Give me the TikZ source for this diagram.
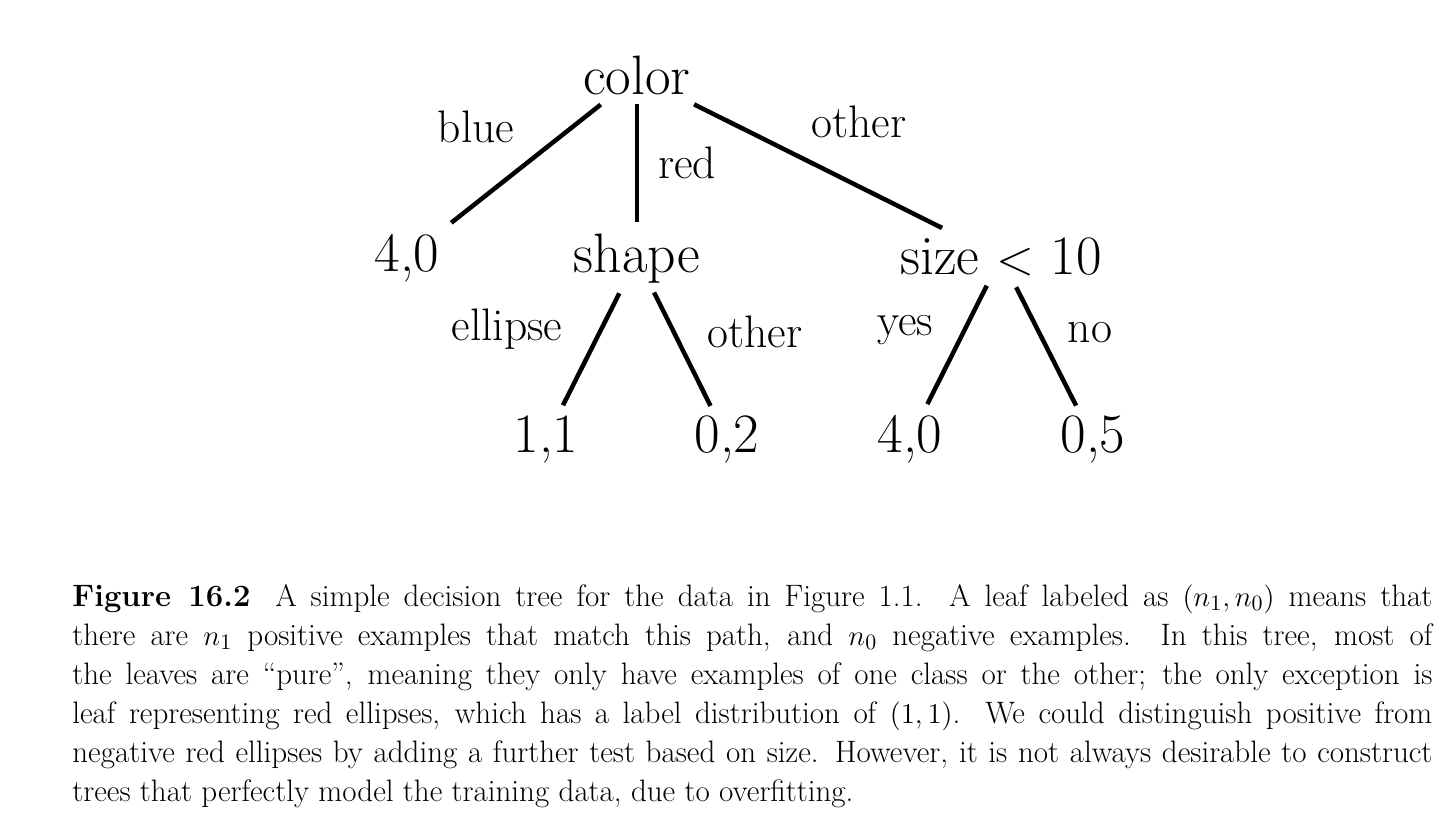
\documentclass[tikz,border=0pt]{standalone}
\usepackage{graphicx}
\begin{document}
\begin{tikzpicture}[x=0.5pt,y=-0.5pt,
  tnode/.style={anchor=base,inner sep=0pt,font=\fontsize{27.8}{32}\selectfont},
  elabel/.style={anchor=base,inner sep=0pt,font=\fontsize{22.8}{26}\selectfont},
  edge/.style={line width=2.25pt}]
\useasboundingbox (0,0) rectangle (1450,818);
% nodes
\node[tnode] (color) at (637,95) {color};
\node[tnode] (l40) at (407,271) {4,0};
\node[tnode] (shape) at (637,272) {shape};
\node[tnode] (size) at (1001,275) {size $<$ 10};
\node[tnode] (l11) at (546,452) {1,1};
\node[tnode] (l02) at (727,452) {0,2};
\node[tnode] (r40) at (910,452) {4,0};
\node[tnode] (r05) at (1093,452) {0,5};
% edges
\draw[edge,shorten <=23.1pt,shorten >=28.2pt] (color.center) -- (l40.center);
\draw[edge,shorten <=13.9pt,shorten >=18.2pt] (color.center) -- (shape.center);
\draw[edge,shorten <=31.9pt,shorten >=32.9pt] (color.center) -- (size.center);
\draw[edge,shorten <=19.7pt,shorten >=18.9pt] (shape.center) -- (l11.center);
\draw[edge,shorten <=19.2pt,shorten >=18.5pt] (shape.center) -- (l02.center);
\draw[edge,shorten <=15.9pt,shorten >=19.4pt] (size.center) -- (r40.center);
\draw[edge,shorten <=16.8pt,shorten >=18.7pt] (size.center) -- (r05.center);
% edge labels
\node[elabel] (lblue) at (476,143) {blue};
\node[elabel] (lred) at (687,179) {red};
\node[elabel] (lother) at (859,138) {other};
\node[elabel] (lellipse) at (507,340) {ellipse};
\node[elabel] (lother2) at (755,347) {other};
\node[elabel] (lyes) at (905,335) {yes};
\node[elabel] (lno) at (1090,342) {no};
% caption
\node[anchor=base west,inner sep=0pt,text width=680pt,align=justify,
  font=\fontsize{15.5}{19.5}\selectfont] (caption) at (72,606) {\hbadness=10000\relax
\textbf{Figure 16.2}\hspace{0.8em}A simple decision tree for the data in Figure 1.1.  A leaf labeled as $(n_1,n_0)$ means that\linebreak
there are $n_1$ positive examples that match this path, and $n_0$ negative examples.  In this tree, most of\linebreak
the leaves are ``pure'', meaning they only have examples of one class or the other; the only exception is\linebreak
leaf representing red ellipses, which has a label distribution of $(1,1)$. We could distinguish positive from\linebreak
negative red ellipses by adding a further test based on size. However, it is not always desirable to construct\linebreak
trees that perfectly model the training data, due to overfitting.};
\end{tikzpicture}
\end{document}
